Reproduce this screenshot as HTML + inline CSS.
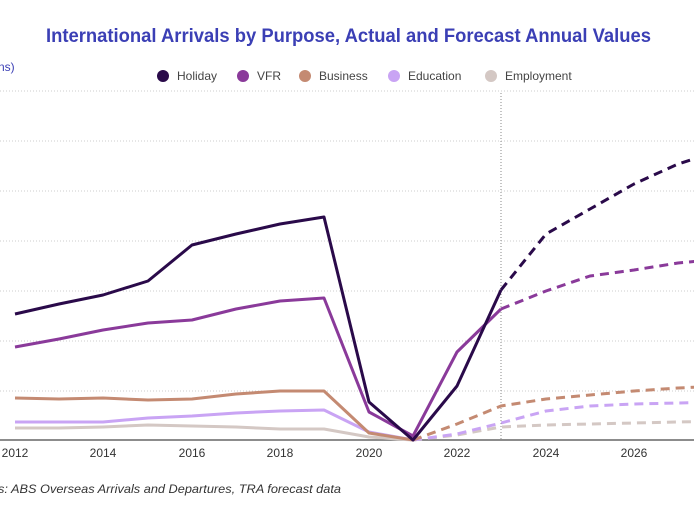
<!DOCTYPE html>
<html><head><meta charset="utf-8"><style>
html,body{margin:0;padding:0;background:#fff;width:694px;height:522px;overflow:hidden;font-family:"Liberation Sans",sans-serif}
</style></head><body>
<svg width="694" height="522" xmlns="http://www.w3.org/2000/svg" font-family="Liberation Sans, sans-serif">
<text x="46" y="42" font-size="19" font-weight="bold" textLength="605" lengthAdjust="spacingAndGlyphs" fill="#3b3fb5">International Arrivals by Purpose, Actual and Forecast Annual Values</text>
<text x="-2" y="71" font-size="12" fill="#3b3fb5">ns)</text>
<g font-size="12" fill="#444">
<circle cx="163" cy="76" r="6" fill="#2a0a4a"/><text x="177" y="80">Holiday</text>
<circle cx="243" cy="76" r="6" fill="#8a3a9a"/><text x="257" y="80">VFR</text>
<circle cx="305" cy="76" r="6" fill="#c48a72"/><text x="319" y="80">Business</text>
<circle cx="394" cy="76" r="6" fill="#c9a4f4"/><text x="408" y="80">Education</text>
<circle cx="491" cy="76" r="6" fill="#d4c8c4"/><text x="505" y="80">Employment</text>
</g>
<g stroke="#ccc" stroke-dasharray="1,2" stroke-width="1">
<line x1="0" y1="91" x2="694" y2="91"/><line x1="0" y1="141" x2="694" y2="141"/><line x1="0" y1="191" x2="694" y2="191"/><line x1="0" y1="241" x2="694" y2="241"/><line x1="0" y1="291" x2="694" y2="291"/><line x1="0" y1="341" x2="694" y2="341"/><line x1="0" y1="391" x2="694" y2="391"/>
</g>
<line x1="501" y1="93" x2="501" y2="440" stroke="#888" stroke-dasharray="1,2"/>
<line x1="0" y1="440" x2="694" y2="440" stroke="#666" stroke-width="1.5"/>
<g fill="none" stroke-width="3" stroke-linejoin="round">
<polyline stroke="#d4c8c4" points="15,428 59,428 103,427 148,425 192,426 236,427 280,429 324,429 369,437 413,440"/>
<polyline stroke="#d4c8c4" stroke-dasharray="9,6" points="413,440 457,435 501,427 546,425 590,424 634,423 678,422 722,421"/>
<polyline stroke="#c9a4f4" points="15,422 59,422 103,422 148,418 192,416 236,413 280,411 324,410 369,432 413,440"/>
<polyline stroke="#c9a4f4" stroke-dasharray="9,6" points="413,440 457,434 501,423 546,411 590,406 634,404 678,403 722,402"/>
<polyline stroke="#c48a72" points="15,398 59,399 103,398 148,400 192,399 236,394 280,391 324,391 369,433 413,440"/>
<polyline stroke="#c48a72" stroke-dasharray="9,6" points="413,440 457,424 501,406 546,399 590,395 634,391 678,388 722,386"/>
<polyline stroke="#8a3a9a" points="15,347 59,339 103,330 148,323 192,320 236,309 280,301 324,298 369,412 413,436 457,352 501,309"/>
<polyline stroke="#8a3a9a" stroke-dasharray="9,6" points="501,309 546,291 590,276 634,270 678,263 722,259"/>
<polyline stroke="#2a0a4a" points="15,314 59,304 103,295 148,281 192,245 236,234 280,224 324,217 369,402 413,440 457,386 501,290"/>
<polyline stroke="#2a0a4a" stroke-dasharray="9,6" points="501,290 546,234 590,209 634,184 678,164 722,150"/>
</g>
<g font-size="12" fill="#333" text-anchor="middle">
<text x="15" y="457">2012</text><text x="103" y="457">2014</text><text x="192" y="457">2016</text><text x="280" y="457">2018</text><text x="369" y="457">2020</text><text x="457" y="457">2022</text><text x="546" y="457">2024</text><text x="634" y="457">2026</text>
</g>
<text x="-2" y="493" font-size="12" font-style="italic" fill="#333" textLength="343" lengthAdjust="spacingAndGlyphs">s: ABS Overseas Arrivals and Departures, TRA forecast data</text>
</svg>
</body></html>
